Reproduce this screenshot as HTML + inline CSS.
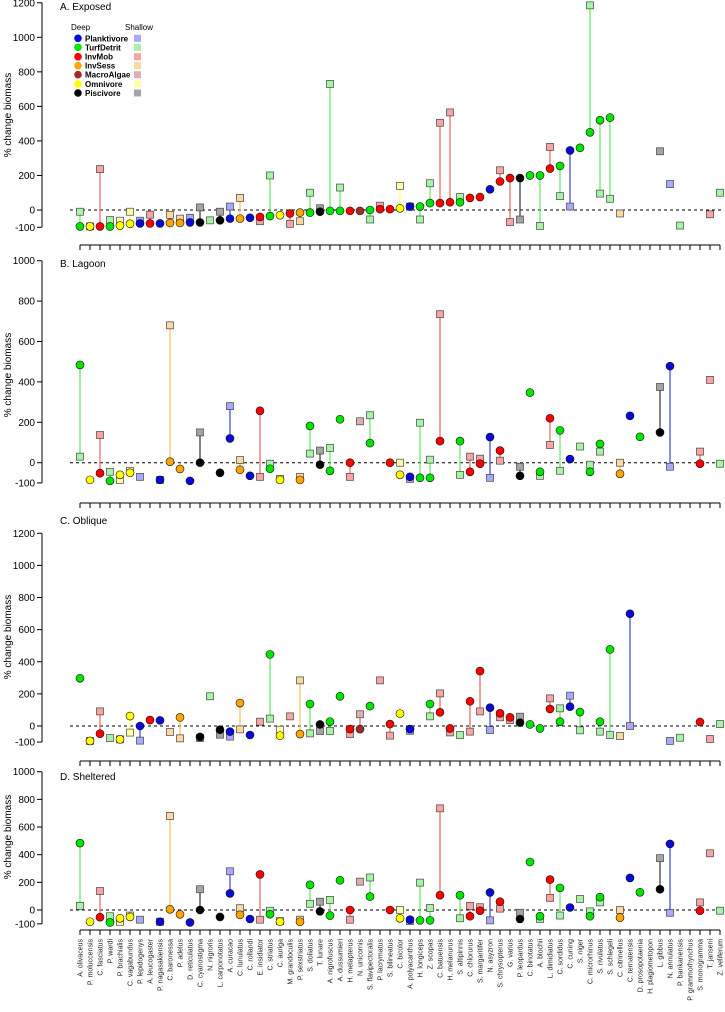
<!DOCTYPE html>
<html><head><meta charset="utf-8"><style>
html,body{margin:0;padding:0;background:#fff}
svg{display:block;font-family:"Liberation Sans",sans-serif}
</style></head><body>
<svg id="chart" width="725" height="1012" viewBox="0 0 725 1012" xmlns="http://www.w3.org/2000/svg"></svg>
<script>
const species=["A. olivaceus","P. moluccensis","C. fasciatus","P. wardi","P. brachialis","C. vagabundus","P. lepidogenys","A. leucogaster","P. nagasakiensis","C. baronessa","P. adelus","D. reticulatus","C. cyanostigma","N. nigroris","L. carponotatus","A. curacao","C. lunulatus","C. rollandi","E. insidiator","C. striatus","C. auriga","M. grandoculis","P. sexstriatus","S. doliatus","T. lunare","A. nigrofuscus","A. dussumieri","H. melapterus","N. unicornis","S. flavipectoralis","P. lacrymatus","S. bilineatus","C. bicolor","A. polyacanthus","H. longiceps","Z. scopas","C. batuensis","H. melanurus","S. altipinnis","C. chlorurus","S. margaritifer","N. asyzron","S. chrysopterus","G. varius","P. leopardus","C. binotatus","A. blochii","L. dimidiatus","C. sordidus","C. cuning","S. niger","C. microrhinus","S. rivulatus","S. schlegeli","C. citrinellus","C. ternatensis","D. prosopotaenia","H. plagiometopon","L. gibbus","N. annulatus","P. bankanensis","P. grammorhynchus","S. monogramma","T. janseni","Z. veliferum"];
const groups=["T","O","I","T","O","O","P","I","P","S","S","P","F","T","F","P","S","P","I","T","O","I","S","T","F","T","T","I","M","T","I","I","O","P","T","T","I","I","T","I","I","P","I","I","F","T","T","I","T","P","T","T","T","T","S","P","T","T","F","P","T","T","I","I","T"];
const groupNames=["Planktivore","TurfDetrit","InvMob","InvSess","MacroAlgae","Omnivore","Piscivore"];
const groupKeys=["P","T","I","S","M","O","F"];
const N=null;
const exposedDeep=[-95,-95,-95,-95,-90,-80,-78,-78,-78,-75,-75,-72,-72,N,-60,-50,-50,-45,-40,-35,-30,-20,-15,-15,-10,-5,-5,-5,-5,0,5,5,10,20,20,40,40,45,45,70,75,120,165,185,185,200,200,240,255,345,360,450,520,535,N,N,N,N,N,N,N,N,N,N,N];
const exposedShallow=[-10,-95,237,-58,-62,-10,-62,-27,N,-28,-50,-45,15,-60,-10,20,70,N,-65,200,N,-80,-65,100,10,730,130,N,N,-55,25,N,140,20,-55,155,505,565,75,N,N,N,230,-70,-55,N,-92,365,80,20,N,1185,95,65,-20,N,N,N,340,150,-90,N,N,-25,100];
const lagoonDeep=[484,-85,-52,-90,-60,-50,N,N,-85,5,-31,-90,0,N,-50,120,-35,-65,257,-30,-85,N,-85,182,-10,-40,215,0,N,97,N,0,-60,-70,-75,-75,107,N,107,-45,-5,127,60,N,-65,347,-45,220,160,18,N,-45,93,N,-55,232,128,N,150,478,N,N,-5,N,N];
const lagoonShallow=[30,N,137,-45,-85,-40,-70,N,-85,680,N,N,150,N,N,280,13,N,-70,-5,-80,N,-70,45,60,73,N,-70,205,235,N,N,0,-80,198,15,735,N,-60,30,20,-75,10,N,-20,N,-65,88,-40,N,80,-10,55,N,0,N,N,N,375,-20,N,N,55,410,-5];
const obliqueDeep=[297,-93,-48,N,-83,62,0,37,35,N,54,N,-68,N,-23,-35,143,-56,N,446,-60,N,-50,137,10,27,185,-19,-19,124,N,12,77,-19,N,137,85,-15,N,154,342,114,79,54,21,10,-15,106,27,120,87,N,27,477,N,699,N,N,N,N,N,N,25,N,N];
const obliqueShallow=[N,-93,91,-75,-83,-41,-91,N,N,-37,-77,N,-75,185,-54,-66,-21,N,27,46,-23,60,284,-46,-31,-31,N,-50,73,N,284,-60,N,-30,N,60,203,-40,-56,-35,91,-25,54,37,58,N,N,172,110,189,-27,N,-35,-56,-62,0,N,N,N,-93,-73,N,N,-81,12];
const sheltDeep=lagoonDeep.slice();
const sheltShallow=lagoonShallow.slice();
const ticksA=[-100,0,200,400,600,800,1000,1200];
const ticksB=[-100,0,200,400,600,800,1000];
const ticksC=[-100,0,200,400,600,800,1000,1200];
const ticksD=[-100,0,200,400,600,800,1000];

const deepCol={P:"#0a0ad8",T:"#00e600",I:"#ff0000",S:"#ffa500",M:"#a52a2a",O:"#ffff00",F:"#000000"};
const shalCol={P:"#a8a8ff",T:"#a6f5a6",I:"#f8a4a4",S:"#fcd8a2",M:"#dcb0b0",O:"#ffffa6",F:"#a4a4a4"};
const lineCol={P:"#4040e0",T:"#60e860",I:"#f06060",S:"#f6c060",M:"#c07070",O:"#ffff60",F:"#333333"};

const svg=document.getElementById("chart");
const NS="http://www.w3.org/2000/svg";
function mk(tag,attrs,parent){const e=document.createElementNS(NS,tag);for(const k in attrs)e.setAttribute(k,attrs[k]);(parent||svg).appendChild(e);return e;}
const xOf=i=>80+10*i;

const panels=[
 {key:"exposed",title:"A. Exposed",deep:exposedDeep,shal:exposedShallow,ticks:ticksA,zero:210,k:0.1727,xAxisY:245,titleY:10,labelY:115},
 {key:"lagoon",title:"B. Lagoon",deep:lagoonDeep,shal:lagoonShallow,ticks:ticksB,zero:462.7,k:0.202,xAxisY:503,titleY:267,labelY:375},
 {key:"oblique",title:"C. Oblique",deep:obliqueDeep,shal:obliqueShallow,ticks:ticksC,zero:726,k:0.1606,xAxisY:761,titleY:524,labelY:637},
 {key:"sheltered",title:"D. Sheltered",deep:sheltDeep,shal:sheltShallow,ticks:ticksD,zero:910,k:0.1383,xAxisY:930,titleY:780,labelY:837}
];

panels.forEach((p,pi)=>{
  const g=mk("g",{});
  
  
  const y=v=>p.zero-v*p.k;
  const t0=p.ticks[0],t1=p.ticks[p.ticks.length-1];
  const ax=mk("line",{x1:42,x2:42,y1:y(t1),y2:y(t0),stroke:"#000","stroke-width":1},g);
  
  
  p.ticks.forEach(t=>{
    mk("line",{x1:37,x2:42,y1:y(t),y2:y(t),stroke:"#000","stroke-width":1},g);
    const tx=mk("text",{x:35,y:y(t)+3.5,"text-anchor":"end","font-size":10,fill:"#000"},g);
    tx.textContent=t;
    
    
  });
  const yl=mk("text",{x:0,y:0,transform:`translate(11,${p.labelY}) rotate(-90)`,"text-anchor":"middle","font-size":10,fill:"#000"},g);
  yl.textContent="% change biomass";
  
  
  const tt=mk("text",{x:60,y:p.titleY,"font-size":10,fill:"#000"},g);
  tt.textContent=p.title;
  
  
  const zl=mk("line",{x1:70,x2:722,y1:y(0),y2:y(0),stroke:"#000","stroke-width":1,"stroke-dasharray":"3,3"},g);
  
  
  const xa=mk("line",{x1:80,x2:720,y1:p.xAxisY,y2:p.xAxisY,stroke:"#000","stroke-width":1},g);
  
  
  species.forEach((s,i)=>{
    mk("line",{x1:xOf(i),x2:xOf(i),y1:p.xAxisY,y2:p.xAxisY+5,stroke:"#000","stroke-width":1},g);
    if(pi===3){
      const lb=mk("text",{x:0,y:0,transform:`translate(${xOf(i)+2.5},${p.xAxisY+9}) rotate(-90)`,"text-anchor":"end","font-size":7,fill:"#222"},g);
      lb.textContent=s;
      
      
    }
  });
  // connecting lines
  species.forEach((s,i)=>{
    const d=p.deep[i],sh=p.shal[i];
    if(d!==null&&sh!==null){
      const ln=mk("line",{x1:xOf(i),x2:xOf(i),y1:y(d),y2:y(sh),stroke:lineCol[groups[i]],"stroke-width":1.2},g);
      
      
    }
  });
  species.forEach((s,i)=>{
    const sh=p.shal[i];
    if(sh!==null){
      const r=mk("rect",{x:xOf(i)-3.5,y:y(sh)-3.5,width:7,height:7,fill:shalCol[groups[i]],stroke:"#444","stroke-width":0.7},g);
      
      
    }
  });
  species.forEach((s,i)=>{
    const d=p.deep[i];
    if(d!==null){
      const c=mk("circle",{cx:xOf(i),cy:y(d),r:4,fill:deepCol[groups[i]],stroke:"#111","stroke-width":0.6},g);
      
      
    }
  });
});

// legend
const lg=mk("g",{});


const dh=mk("text",{x:71,y:30,"font-size":8,fill:"#000"},lg);dh.textContent="Deep";
const sh=mk("text",{x:125,y:30,"font-size":8,fill:"#000"},lg);sh.textContent="Shallow";
const ly=[38.3,47.3,56.7,65.7,74.7,84,93];
groupKeys.forEach((gk,j)=>{
  const e=mk("g",{},lg);
  
  
  mk("circle",{cx:78,cy:ly[j],r:3.8,fill:deepCol[gk]},e);
  const t=mk("text",{x:85,y:ly[j]+3,"font-size":8,"font-weight":"bold",fill:"#000"},e);
  t.textContent=groupNames[j];
  mk("rect",{x:134,y:ly[j]-3.5,width:7,height:7,fill:shalCol[gk]},e);
});
</script>
</body></html>
